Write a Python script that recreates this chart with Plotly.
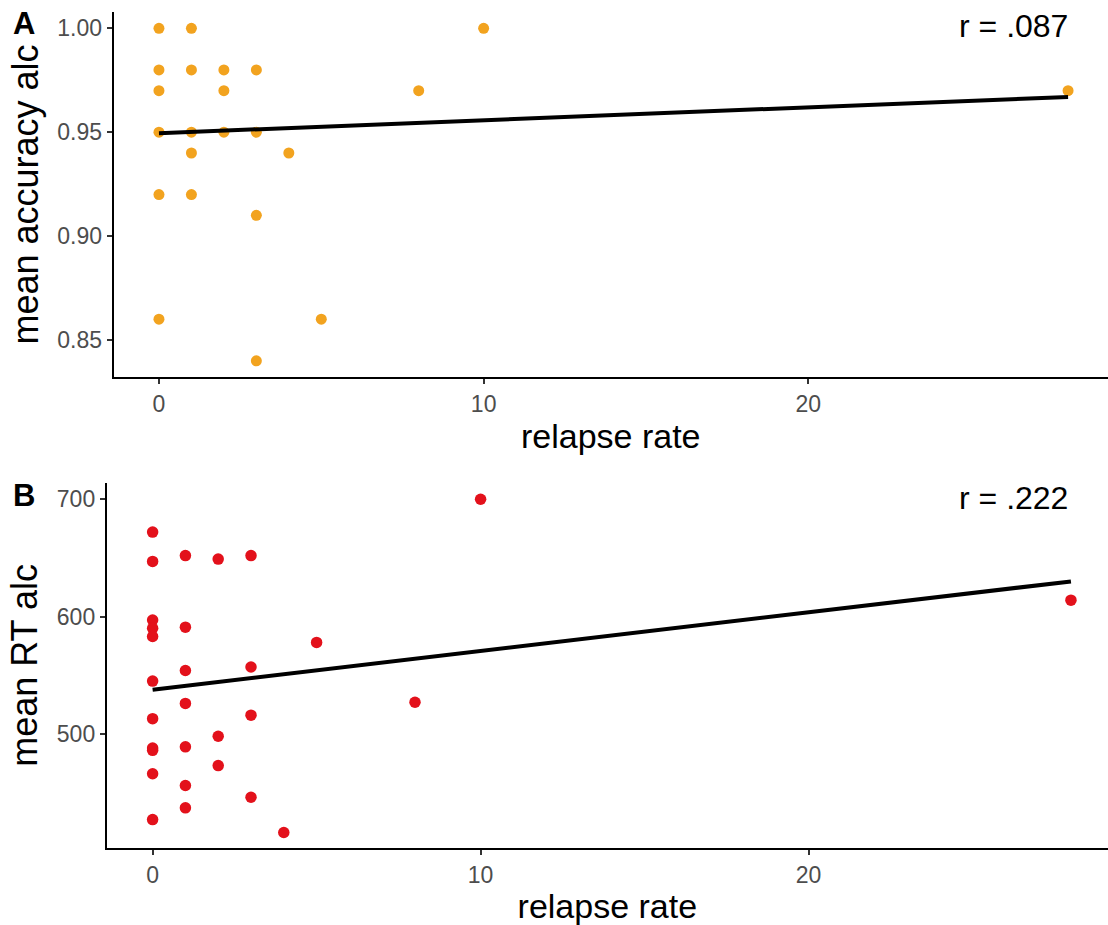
import plotly.graph_objects as go

# Relapse rate vs. mean accuracy (panel A)
acc_relapse = [0, 0, 0, 0, 0, 0,
               1, 1, 1, 1, 1,
               2, 2, 2,
               3, 3, 3, 3,
               4, 5, 8, 10, 28]
acc_values = [1.00, 0.98, 0.97, 0.95, 0.92, 0.86,
              1.00, 0.98, 0.95, 0.94, 0.92,
              0.98, 0.97, 0.95,
              0.98, 0.95, 0.91, 0.84,
              0.94, 0.86, 0.97, 1.00, 0.97]

# Relapse rate vs. mean reaction time (panel B)
rt_relapse = [0, 0, 0, 0, 0, 0, 0, 0, 0, 0, 0,
              1, 1, 1, 1, 1, 1, 1,
              2, 2, 2,
              3, 3, 3, 3,
              4, 5, 8, 10, 28]
rt_values = [672, 647, 597, 590, 583, 545, 513, 488, 486, 466, 427,
             652, 591, 554, 526, 489, 456, 437,
             649, 498, 473,
             652, 557, 516, 446,
             416, 578, 527, 700, 614]

# Linear fit end points
fit_x = [0, 28]
fit_acc = [0.9495, 0.9670]
fit_rt = [537.7, 630.0]

r_labels = ["r = .087", "r = .222"]
panel_tags = ["A", "B"]

acc_ticks = [0.85, 0.90, 0.95, 1.00]
rt_ticks = [500, 600, 700]
x_ticks = [0, 10, 20]

W, H = 1108, 925
FONT = "Liberation Sans, Arial, sans-serif"

fig = go.Figure()

fig.add_trace(go.Scatter(x=acc_relapse, y=acc_values, mode="markers",
                         marker=dict(color="#F2A31F", size=11),
                         xaxis="x", yaxis="y", showlegend=False))
fig.add_trace(go.Scatter(x=fit_x, y=fit_acc, mode="lines",
                         line=dict(color="black", width=4),
                         xaxis="x", yaxis="y", showlegend=False))
fig.add_trace(go.Scatter(x=rt_relapse, y=rt_values, mode="markers",
                         marker=dict(color="#E3111B", size=11.5),
                         xaxis="x2", yaxis="y2", showlegend=False))
fig.add_trace(go.Scatter(x=fit_x, y=fit_rt, mode="lines",
                         line=dict(color="black", width=4),
                         xaxis="x2", yaxis="y2", showlegend=False))

axis_common = dict(showline=True, linecolor="black", linewidth=1.8,
                   ticks="outside", ticklen=5, tickwidth=1.5, tickcolor="#333333",
                   tickfont=dict(family=FONT, size=23, color="#4d4d4d"),
                   showgrid=False, zeroline=False, automargin=False)

xtitle = dict(text="relapse rate", font=dict(family=FONT, size=34, color="black"),
              standoff=8)

fig.update_layout(
    width=W, height=H,
    margin=dict(l=0, r=0, t=0, b=0),
    paper_bgcolor="white", plot_bgcolor="white",
    xaxis=dict(domain=[113.5 / W, 1], range=[-1.4, 29.23], anchor="y",
               tickvals=x_ticks, title=xtitle, **axis_common),
    yaxis=dict(domain=[1 - 377.4 / H, 1 - 11.7 / H], range=[0.832, 1.008], anchor="x",
               tickvals=acc_ticks, tickformat=".2f",
               title=dict(text="mean accuracy alc",
                          font=dict(family=FONT, size=36, color="black"), standoff=8),
               **axis_common),
    xaxis2=dict(domain=[106.7 / W, 1], range=[-1.4, 29.13], anchor="y2",
                tickvals=x_ticks, title=xtitle, **axis_common),
    yaxis2=dict(domain=[1 - 848.3 / H, 1 - 482.6 / H], range=[402.5, 714.2], anchor="x2",
                tickvals=rt_ticks,
                title=dict(text="mean RT alc",
                           font=dict(family=FONT, size=36, color="black"), standoff=8),
                **axis_common),
)

# Correlation labels and panel tags
for label, yc in zip(r_labels, [25.8, 498.0]):
    fig.add_annotation(text=label, x=1070 / W, y=1 - yc / H, xref="paper", yref="paper",
                       xanchor="right", yanchor="middle", showarrow=False,
                       font=dict(family=FONT, size=32, color="black"))
for tag, yc in zip(panel_tags, [23.3, 496.0]):
    fig.add_annotation(text="<b>" + tag + "</b>", x=11 / W, y=1 - yc / H,
                       xref="paper", yref="paper", xanchor="left", yanchor="middle",
                       showarrow=False, font=dict(family=FONT, size=31, color="black"))

fig.write_html("out.html")
